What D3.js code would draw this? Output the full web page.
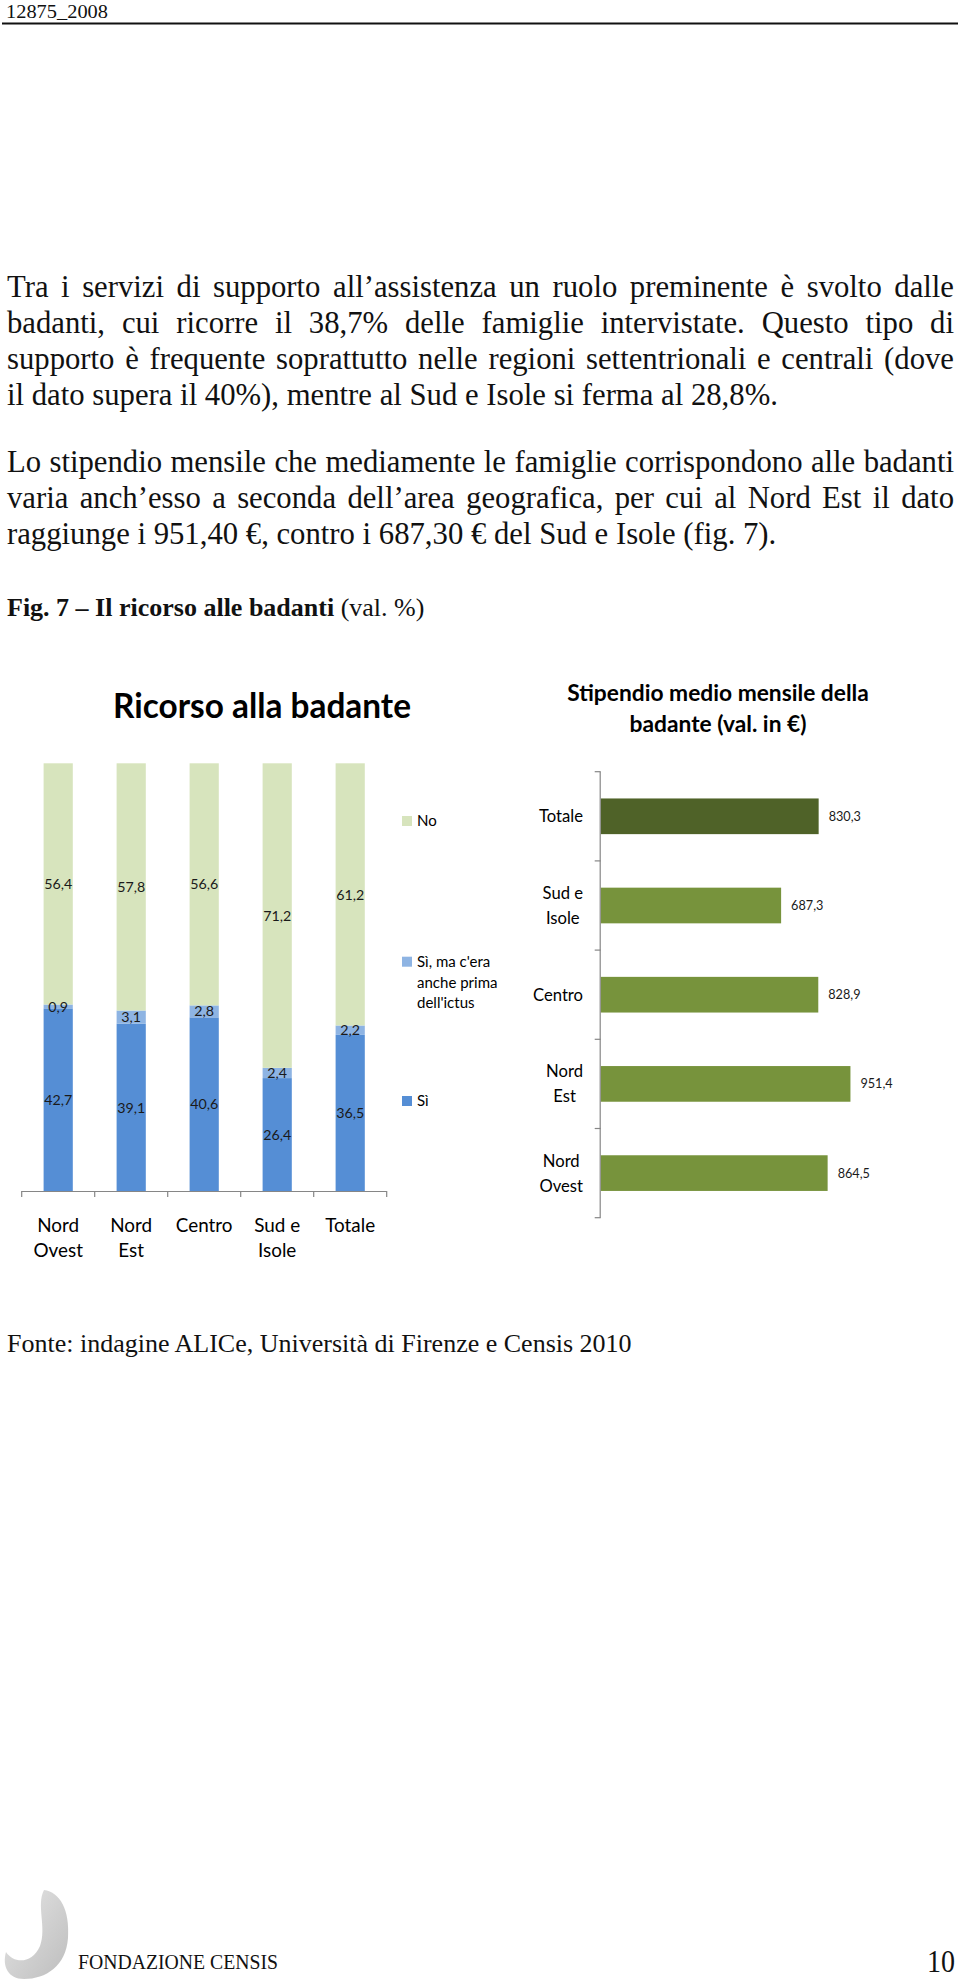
<!DOCTYPE html>
<html><head><meta charset="utf-8">
<script src="https://cdn.jsdelivr.net/npm/d3@7"></script>
<style>html,body{margin:0;padding:0;background:#fff;} svg{display:block;}</style>
</head><body>
<svg id="page" width="960" height="1979"></svg>
<script>
// ---------- DATA ----------
const regions = ["Nord Ovest", "Nord Est", "Centro", "Sud e Isole", "Totale"];
const regionLabelLines = [["Nord", "Ovest"], ["Nord", "Est"], ["Centro"], ["Sud e", "Isole"], ["Totale"]];
const siValues = [42.7, 39.1, 40.6, 26.4, 36.5];
const siPrimaValues = [0.9, 3.1, 2.8, 2.4, 2.2];
const noValues = [56.4, 57.8, 56.6, 71.2, 61.2];
const seriesNames = ["Sì", "Sì, ma c'era anche prima dell'ictus", "No"];
const legendLines = [["No"], ["Sì, ma c'era", "anche prima", "dell'ictus"], ["Sì"]];

const salaryCategories = ["Totale", "Sud e Isole", "Centro", "Nord Est", "Nord Ovest"];
const salaryLabelLines = [["Totale"], ["Sud e", "Isole"], ["Centro"], ["Nord", "Est"], ["Nord", "Ovest"]];
const salaryValues = [830.3, 687.3, 828.9, 951.4, 864.5];

const para1 = [
  "Tra i servizi di supporto all’assistenza un ruolo preminente è svolto dalle",
  "badanti, cui ricorre il 38,7% delle famiglie intervistate. Questo tipo di",
  "supporto è frequente soprattutto nelle regioni settentrionali e centrali (dove",
  "il dato supera il 40%), mentre al Sud e Isole si ferma al 28,8%."
];
const para2 = [
  "Lo stipendio mensile che mediamente le famiglie corrispondono alle badanti",
  "varia anch’esso a seconda dell’area geografica, per cui al Nord Est il dato",
  "raggiunge i 951,40 €, contro i 687,30 € del Sud e Isole (fig. 7)."
];

// ---------- SETUP ----------
const svg = d3.select("#page");
svg.append("rect").attr("width", 960).attr("height", 1979).attr("fill", "#fff");
const SERIF = "'Liberation Serif','Times New Roman',serif";
const SANS = "Lato,'Open Sans',sans-serif";

const tmp = svg.append("text").attr("x", -1000).attr("y", -1000);
function measure(str, family, size, weight) {
  tmp.attr("font-family", family).attr("font-size", size).attr("font-weight", weight || "normal").text(str);
  return tmp.node().getComputedTextLength();
}
function fitSize(str, family, weight, target) {
  return 20 * target / measure(str, family, 20, weight);
}
const fmt = v => d3.format(".1f")(v).replace(".", ",");

// ---------- HEADER ----------
svg.append("text").attr("x", 6).attr("y", 18).attr("font-family", SERIF).attr("font-size", 19)
  .attr("textLength", 102).attr("lengthAdjust", "spacingAndGlyphs").attr("fill", "#111").text("12875_2008");
svg.append("line").attr("x1", 2).attr("x2", 958).attr("y1", 23.5).attr("y2", 23.5)
  .attr("stroke", "#111").attr("stroke-width", 2);

// ---------- BODY TEXT ----------
const bodySize = fitSize(para1[3], SERIF, "normal", 771);
function writeLine(text, y, justify) {
  const words = text.split(" ");
  const widths = words.map(w => measure(w, SERIF, bodySize));
  const x0 = 7, x1 = 954;
  const gap = justify ? (x1 - x0 - d3.sum(widths)) / (words.length - 1) : bodySize * 0.25;
  let x = x0;
  words.forEach((w, i) => {
    svg.append("text").attr("x", x).attr("y", y).attr("font-family", SERIF)
      .attr("font-size", bodySize).attr("fill", "#111").text(w);
    x += widths[i] + gap;
  });
}
para1.forEach((l, i) => writeLine(l, 297 + i * 36, i < para1.length - 1));
para2.forEach((l, i) => writeLine(l, 472 + i * 36, i < para2.length - 1));

const fig = svg.append("text").attr("x", 7).attr("y", 615.5).attr("font-family", SERIF)
  .attr("font-size", 26).attr("fill", "#111");
fig.append("tspan").attr("font-weight", "bold").text("Fig. 7 – Il ricorso alle badanti");
fig.append("tspan").text(" (val. %)");

svg.append("text").attr("x", 7).attr("y", 1352).attr("font-family", SERIF)
  .attr("font-size", 26).attr("fill", "#111").text("Fonte: indagine ALICe, Università di Firenze e Censis 2010");

// ---------- LEFT CHART: Ricorso alla badante ----------
const titleSize = fitSize("Ricorso alla badante", SANS, "bold", 298);
svg.append("text").attr("x", 262).attr("y", 718).attr("text-anchor", "middle")
  .attr("font-family", SANS).attr("font-weight", "bold").attr("font-size", titleSize)
  .attr("fill", "#000").text("Ricorso alla badante");

const xL = d3.scaleBand().domain(regions).range([21.7, 386.7]).paddingInner(0.6).paddingOuter(0.3);
const yL = d3.scaleLinear().domain([0, 100]).range([1191, 763.3]);
const colorsL = ["#558ed5", "#8eb4e3", "#d7e4bd"];

const stackData = regions.map((r, i) => ({ region: r, s0: siValues[i], s1: siPrimaValues[i], s2: noValues[i] }));
const stacked = d3.stack().keys(["s0", "s1", "s2"])(stackData);
const valSize = fitSize("56,4", SANS, "normal", 28);

const gL = svg.append("g");
stacked.forEach((layer, si) => {
  gL.selectAll(null).data(layer).enter().append("rect")
    .attr("x", d => xL(d.data.region))
    .attr("width", xL.bandwidth())
    .attr("y", d => si === 2 ? yL(100) : yL(d[1]))
    .attr("height", d => (si === 2 ? yL(d[0]) - yL(100) : yL(d[0]) - yL(d[1])))
    .attr("fill", colorsL[si]);
});
stacked.forEach((layer, si) => {
  gL.selectAll(null).data(layer).enter().append("text")
    .attr("x", d => xL(d.data.region) + xL.bandwidth() / 2)
    .attr("y", d => si === 2 ? (yL(d[0]) + yL(100)) / 2 : (yL(d[0]) + yL(d[1])) / 2)
    .attr("dy", "0.36em").attr("text-anchor", "middle")
    .attr("font-family", SANS).attr("font-size", valSize).attr("fill", "#1a1a1a")
    .text(d => fmt(d[1] - d[0]));
});

// axis
const stepL = xL.step();
const boundsL = regions.map(r => xL(r) - stepL * xL.paddingInner() / 2).concat([xL.range()[1]]);
boundsL[0] = xL.range()[0];
gL.append("line").attr("x1", xL.range()[0]).attr("x2", xL.range()[1]).attr("y1", yL(0) + 0.5).attr("y2", yL(0) + 0.5)
  .attr("stroke", "#868686").attr("stroke-width", 1.2);
gL.selectAll(null).data(boundsL).enter().append("line")
  .attr("x1", d => d).attr("x2", d => d).attr("y1", yL(0)).attr("y2", yL(0) + 6)
  .attr("stroke", "#868686").attr("stroke-width", 1.2);

const catSizeL = fitSize("Centro", SANS, "normal", 56.7);
regions.forEach((r, i) => {
  regionLabelLines[i].forEach((ln, j) => {
    gL.append("text").attr("x", xL(r) + xL.bandwidth() / 2).attr("y", 1225 + j * 25.7)
      .attr("dy", "0.36em").attr("text-anchor", "middle")
      .attr("font-family", SANS).attr("font-size", catSizeL).attr("fill", "#000").text(ln);
  });
});

// legend (top to bottom: No, Sì ma..., Sì)
const legSize = fitSize("Sì, ma c'era", SANS, "normal", 73.3);
const legendY = [821, 961.7, 1101];
const legendColors = [colorsL[2], colorsL[1], colorsL[0]];
legendLines.forEach((lines, k) => {
  gL.append("rect").attr("x", 402).attr("y", legendY[k] - 5).attr("width", 10).attr("height", 10)
    .attr("fill", legendColors[k]);
  lines.forEach((ln, j) => {
    gL.append("text").attr("x", 417).attr("y", legendY[k] + j * 20.5).attr("dy", "0.36em")
      .attr("font-family", SANS).attr("font-size", legSize).attr("fill", "#000").text(ln);
  });
});

// ---------- RIGHT CHART: Stipendio ----------
const rTitleSize = fitSize("Stipendio medio mensile della", SANS, "bold", 301.7);
["Stipendio medio mensile della", "badante (val. in €)"].forEach((t, i) => {
  svg.append("text").attr("x", 718).attr("y", 700.7 + i * 31).attr("text-anchor", "middle")
    .attr("font-family", SANS).attr("font-weight", "bold").attr("font-size", rTitleSize)
    .attr("fill", "#000").text(t);
});

const yR = d3.scaleBand().domain(salaryCategories).range([771.7, 1217.7]).paddingInner(0.6).paddingOuter(0.3);
const xR = d3.scaleLinear().domain([0, 1000]).range([600.7, 863.2]);
const gR = svg.append("g");
gR.selectAll(null).data(salaryCategories).enter().append("rect")
  .attr("x", xR(0)).attr("y", d => yR(d))
  .attr("width", (d, i) => xR(salaryValues[i]) - xR(0))
  .attr("height", yR.bandwidth())
  .attr("fill", d => d === "Totale" ? "#4f6228" : "#77933c");

const rValSize = fitSize("830,3", SANS, "normal", 32.3);
gR.selectAll(null).data(salaryCategories).enter().append("text")
  .attr("x", (d, i) => xR(salaryValues[i]) + 10)
  .attr("y", d => yR(d) + yR.bandwidth() / 2).attr("dy", "0.36em")
  .attr("font-family", SANS).attr("font-size", rValSize).attr("fill", "#1a1a1a")
  .text((d, i) => fmt(salaryValues[i]));

// axis
const stepR = yR.step();
const boundsR = salaryCategories.map(c => yR(c) - stepR * yR.paddingInner() / 2);
boundsR[0] = yR.range()[0];
boundsR.push(yR.range()[1]);
gR.append("line").attr("x1", xR(0) - 0.5).attr("x2", xR(0) - 0.5).attr("y1", yR.range()[0]).attr("y2", yR.range()[1])
  .attr("stroke", "#868686").attr("stroke-width", 1.2);
gR.selectAll(null).data(boundsR).enter().append("line")
  .attr("x1", xR(0) - 6).attr("x2", xR(0)).attr("y1", d => d).attr("y2", d => d)
  .attr("stroke", "#868686").attr("stroke-width", 1.2);

const catSizeR = fitSize("Centro", SANS, "normal", 50);
salaryCategories.forEach((c, i) => {
  const lines = salaryLabelLines[i];
  const maxW = d3.max(lines, l => measure(l, SANS, catSizeR));
  const cx = 583 - maxW / 2;
  const cy = yR(c) + yR.bandwidth() / 2;
  lines.forEach((ln, j) => {
    gR.append("text").attr("x", cx).attr("y", cy + (j - (lines.length - 1) / 2) * 25)
      .attr("dy", "0.36em").attr("text-anchor", "middle")
      .attr("font-family", SANS).attr("font-size", catSizeR).attr("fill", "#000").text(ln);
  });
});

// ---------- FOOTER ----------
const defs = svg.append("defs");
const grad = defs.append("linearGradient").attr("id", "logoGrad").attr("x1", "0").attr("y1", "0").attr("x2", "1").attr("y2", "1");
grad.append("stop").attr("offset", "0").attr("stop-color", "#e6e6e6");
grad.append("stop").attr("offset", "1").attr("stop-color", "#bdbdbd");
svg.append("path")
  .attr("d", "M44 1890 C60 1892 70 1910 68 1938 C66 1966 46 1979 24 1979 C8 1979 2 1966 6 1952 C14 1964 32 1964 40 1946 C47 1928 36 1905 44 1890 Z")
  .attr("fill", "url(#logoGrad)");
svg.append("path")
  .attr("d", "M30 1902 L33 1902 L33 1928 C33 1934 28 1936 24 1933 L25 1930 C28 1932 30 1930 30 1926 Z")
  .attr("fill", "#fff");
svg.append("text").attr("x", 78).attr("y", 1969).attr("font-family", SERIF).attr("font-size", 21)
  .attr("textLength", 200).attr("lengthAdjust", "spacingAndGlyphs").attr("fill", "#111").text("FONDAZIONE CENSIS");
svg.append("text").attr("x", 927).attr("y", 1972).attr("font-family", SERIF).attr("font-size", 32)
  .attr("textLength", 28).attr("lengthAdjust", "spacingAndGlyphs").attr("fill", "#111").text("10");

tmp.remove();
</script>
</body></html>
